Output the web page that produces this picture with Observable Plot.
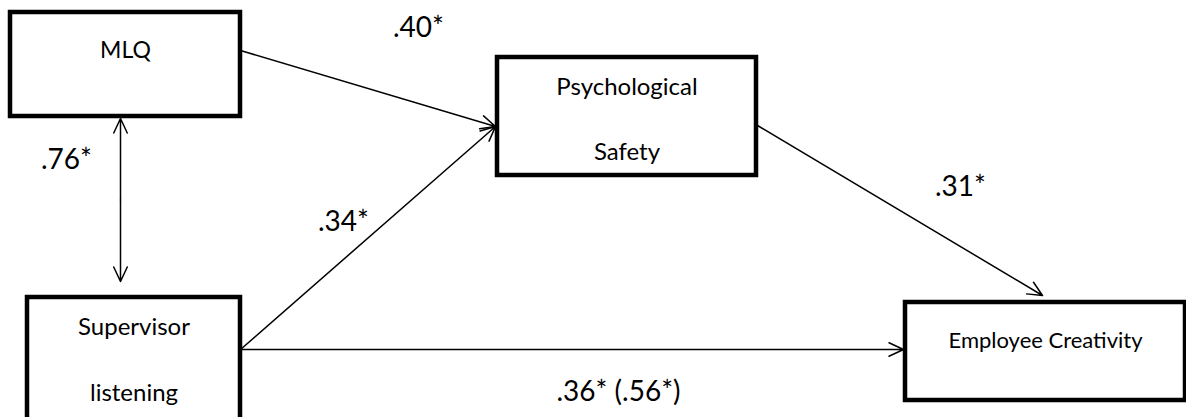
<!DOCTYPE html>
<html><head><meta charset="utf-8">
<script src="https://cdn.jsdelivr.net/npm/d3@7"></script>
<script src="https://cdn.jsdelivr.net/npm/@observablehq/plot@0.6"></script>
<style>html,body{margin:0;padding:0;background:#fff;overflow:hidden}</style>
</head><body><div id="chart"></div>
<script>
// Nodes of the path diagram (diagram coordinates, pixels)
const nodeNames = ["MLQ", "Psychological Safety", "Supervisor listening", "Employee Creativity"];
const nodeLines = [["MLQ"], ["Psychological", "Safety"], ["Supervisor", "listening"], ["Employee Creativity"]];
const nodeX1 = [10, 497, 27, 905];
const nodeX2 = [240, 756, 240, 1185];
const nodeY1 = [12, 57, 297, 302];
const nodeY2 = [116, 175, 424, 400];
const lineY = [[50], [87, 152], [327, 393], [340]];
const nodeFont = [23, 24, 24, 22];

// Paths (coefficients)
const pathFrom = [[240, 50], [240, 349], [757, 125], [240, 349]];
const pathTo = [[495, 126], [495, 126], [1042, 295], [903, 349]];
const pathLabel = [".40*", ".34*", ".31*", ".36* (.56*)"];
const labelPos = [[418, 28], [343, 222], [960, 187], [618, 392]];

// Correlation (double-headed)
const corrX = 120, corrY1 = 118, corrY2 = 281, corrLabel = ".76*", corrLabelPos = [66, 160];

const boxes = nodeNames.map((n, i) => ({name: n, x1: nodeX1[i], x2: nodeX2[i], y1: nodeY1[i], y2: nodeY2[i]}));
const texts = nodeLines.flatMap((ls, i) => ls.map((t, j) => ({t, x: (nodeX1[i] + nodeX2[i]) / 2, y: lineY[i][j], fs: nodeFont[i]})));
const paths = pathFrom.map((f, i) => ({x1: f[0], y1: f[1], x2: pathTo[i][0], y2: pathTo[i][1]}));
const corrMid = (corrY1 + corrY2) / 2;
const corr = [{x1: corrX, y1: corrMid, x2: corrX, y2: corrY1}, {x1: corrX, y1: corrMid, x2: corrX, y2: corrY2}];
const labels = pathLabel.map((t, i) => ({t, x: labelPos[i][0], y: labelPos[i][1]})).concat([{t: corrLabel, x: corrLabelPos[0], y: corrLabelPos[1]}]);

const font = "Lato, 'Open Sans', sans-serif";
const chart = Plot.plot({
  width: 1186, height: 417,
  margin: 0,
  x: {domain: [0, 1186], range: [0, 1186], axis: null},
  y: {domain: [0, 417], range: [0, 417], axis: null},
  style: {fontFamily: font, background: "white"},
  marks: [
    Plot.arrow(paths, {x1: "x1", y1: "y1", x2: "x2", y2: "y2", stroke: "black", strokeWidth: 1.5, headLength: 16, headAngle: 50}),
    Plot.arrow(corr, {x1: "x1", y1: "y1", x2: "x2", y2: "y2", stroke: "black", strokeWidth: 1.5, headLength: 16, headAngle: 50}),
    Plot.rect(boxes, {x1: "x1", x2: "x2", y1: "y1", y2: "y2", fill: "white", stroke: "black", strokeWidth: 4.5}),
    Plot.text(texts, {x: "x", y: "y", text: "t", fontSize: d => d.fs, fill: "black", fontFamily: font}),
    Plot.text(labels, {x: "x", y: "y", text: "t", fontSize: 28, fill: "black", fontFamily: font})
  ]
});
document.getElementById("chart").appendChild(chart);
</script>
</body></html>
